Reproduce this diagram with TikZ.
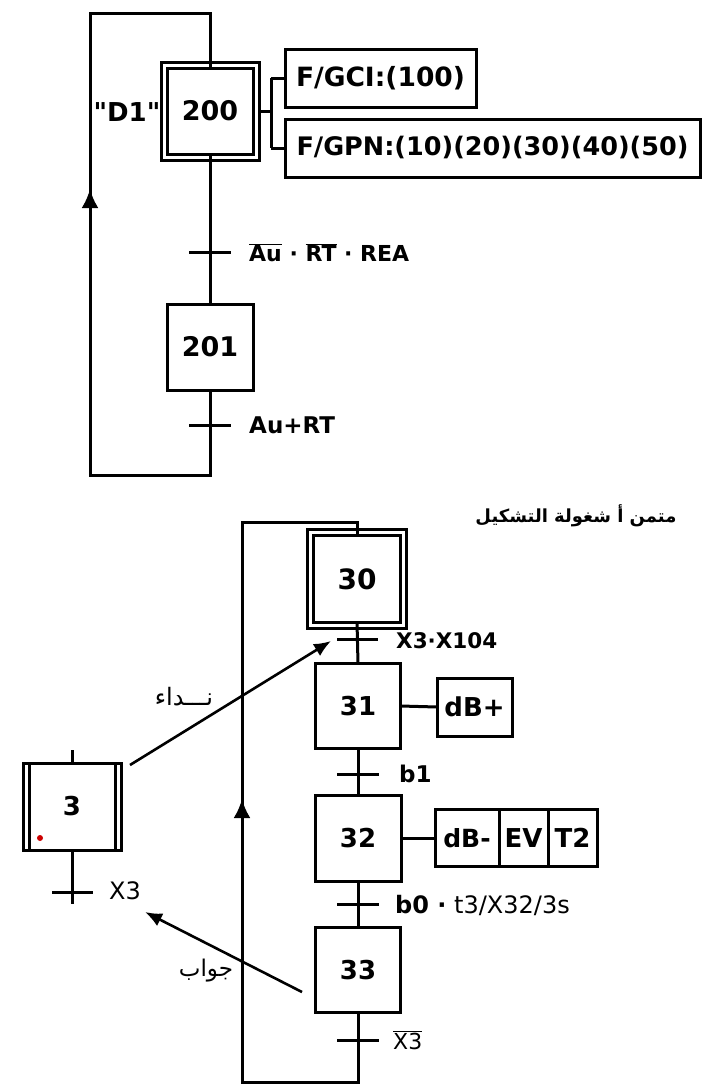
\documentclass[tikz,border=0pt]{standalone}
\usepackage{fontspec}
\setmainfont{DejaVu Sans}
\newfontfamily\arabicfont[Script=Arabic]{DejaVu Sans}
\TeXXeTstate=1
\usetikzlibrary{arrows.meta}
\newcommand\ovl[1]{$\overline{\hbox{#1}}$}
\newcommand\fs[1]{\fontsize{#1}{#1}\selectfont}
\begin{document}
\begin{tikzpicture}[x=1pt,y=-1pt,
  ln/.style={line width=3pt},
  stepbox/.style={draw,line width=3pt,minimum size=86pt,inner sep=0pt,outer sep=0pt,font=\bfseries\fs{26}},
  initstep/.style={stepbox,double,double distance=3pt,minimum size=92pt},
  actbox/.style={draw,line width=3pt,inner sep=0pt,outer sep=0pt,anchor=west,minimum height=58pt,font=\bfseries\fs{26}},
  lbl/.style={anchor=west,inner sep=0pt,font=\bfseries\fs{22}},
  lblr/.style={anchor=west,inner sep=0pt,font=\fs{23}},
  arr/.style={ln,-{Latex[length=19pt,width=17pt]}},
  arrs/.style={line width=2.6pt,-{Latex[length=17pt,width=14pt]}}
]
\useasboundingbox (0,0) rectangle (702,1084);
% ---------- top chart ----------
\node[initstep,font=\bfseries\fs{27}] (s200) at (210,111) {200};
\node[font=\bfseries\fs{26},inner sep=0pt] (d1) at (127,112) {\textquotedbl D1\textquotedbl};
\node[actbox,minimum width=191pt,font=\bfseries\fs{26.5}] (a1) at (285,78) {F/GCI:(100)};
\node[actbox,minimum width=415pt,font=\bfseries\fs{25.5}] (a2) at (285,148) {F/GPN:(10)(20)(30)(40)(50)};
\coordinate (j1) at (271,111);
\draw[ln] ([xshift=3pt]s200.east) -- (j1);
\draw[ln] (j1 |- a1.west) -- (j1 |- a2.west);
\draw[ln] (j1 |- a1.west) -- (a1.west);
\draw[ln] (j1 |- a2.west) -- (a2.west);
\coordinate (t1) at (210,252);
\draw[ln] ([xshift=-21pt]t1) -- ([xshift=21pt]t1);
\node[lbl] (l1) at (249,253) {\ovl{Au} · \ovl{RT} · REA};
\node[stepbox,font=\bfseries\fs{27}] (s201) at (210,347) {201};
\draw[ln] ([yshift=4pt]s200.south) -- (s201.north);
\coordinate (t2) at (210,425);
\draw[ln] ([xshift=-21pt]t2) -- ([xshift=21pt]t2);
\node[lbl,font=\bfseries\fs{23}] (l2) at (249,425) {Au+RT};
\coordinate (b1) at (210,475);
\coordinate (c1) at (90,13);
\draw[ln] (s201.south) -- (b1) -| (c1) -| ([yshift=-4pt]s200.north);
\coordinate (ar1a) at (90,215);
\coordinate (ar1b) at (90,189);
\draw[arr] (ar1a) -- (ar1b);
% ---------- bottom chart ----------
\node[font=\bfseries\fs{18},inner sep=0pt] (hdr) at (576,516) {\arabicfont\beginR متمن أ شغولة التشكيل\endR};
\node[stepbox,double,double distance=2.5pt,minimum size=93pt,font=\bfseries\fs{28}] (s30) at (357,579) {30};
\coordinate (t30) at (357,639);
\draw[ln] ([xshift=-20pt]t30) -- ([xshift=21pt]t30);
\node[lbl,font=\bfseries\fs{21.5}] (l30) at (396,641) {X3·X104};
\node[stepbox,minimum size=85pt] (s31) at (358,706) {31};
\draw[ln] ([yshift=4pt]s30.south) -- (s31.north);
\node[actbox,minimum width=75pt] (a31) at (437,707) {dB+};
\draw[ln] (s31.east) -- (a31.west);
\coordinate (t31) at (358,774);
\draw[ln] ([xshift=-21pt]t31) -- ([xshift=21pt]t31);
\node[lbl,font=\bfseries\fs{23}] (l31) at (399,774) {b1};
\node[stepbox] (s32) at (358,838) {32};
\draw[ln] (s31.south) -- (s32.north);
\node[actbox,minimum width=64pt,minimum height=57pt,font=\bfseries\fs{25}] (a32a) at (435,838) {dB-};
\node[actbox,minimum width=49pt,minimum height=57pt] (a32b) at (a32a.east) {EV};
\node[actbox,minimum width=49pt,minimum height=57pt] (a32c) at (a32b.east) {T2};
\draw[ln] (s32.east) -- (a32a.west);
\coordinate (t32) at (358,904);
\draw[ln] ([xshift=-21pt]t32) -- ([xshift=21pt]t32);
\node[lblr,font=\fs{24}] (l32) at (395,905) {\textbf{b0 ·} t3/X32/3s};
\node[stepbox,minimum size=85pt] (s33) at (358,970) {33};
\draw[ln] (s32.south) -- (s33.north);
\coordinate (t33) at (358,1040);
\draw[ln] ([xshift=-21pt]t33) -- ([xshift=21pt]t33);
\node[lblr,font=\fs{22}] (l33) at (393,1040) {\ovl{X3}};
\coordinate (b2) at (358,1082);
\coordinate (c2) at (242,522);
\draw[ln] (s33.south) -- (b2) -| (c2) -| ([yshift=-4pt]s30.north);
\coordinate (ar2a) at (242,840);
\coordinate (ar2b) at (242,799);
\draw[arr] (ar2a) -- (ar2b);
% step 3
\node[stepbox,minimum width=98pt,minimum height=87pt] (s3) at (72,806.5) {3};
\draw[ln] ([xshift=6pt]s3.north west) -- ([xshift=6pt]s3.south west);
\draw[ln] ([xshift=-6pt]s3.north east) -- ([xshift=-6pt]s3.south east);
\fill[red!80!black] (40,838) circle (3pt);
\coordinate (s3top) at (72,750);
\draw[ln] (s3.north) -- (s3top);
\coordinate (t3) at (72,892);
\coordinate (t3end) at (72,904);
\draw[ln] (s3.south) -- (t3end);
\draw[ln] ([xshift=-20pt]t3) -- ([xshift=21pt]t3);
\node[lblr,font=\fs{24}] (l3) at (109,891) {X3};
% calls
\coordinate (callA) at (130,765);
\coordinate (callB) at (331,641);
\draw[arrs] (callA) -- (callB);
\node[font=\fs{24},inner sep=0pt] (lcall) at (184,697) {\arabicfont\beginR نـــداء\endR};
\coordinate (ansA) at (302,992);
\coordinate (ansB) at (145,912);
\draw[arrs] (ansA) -- (ansB);
\node[font=\fs{23},inner sep=0pt] (lans) at (206,971) {\arabicfont\beginR جواب\endR};
\end{tikzpicture}
\end{document}
